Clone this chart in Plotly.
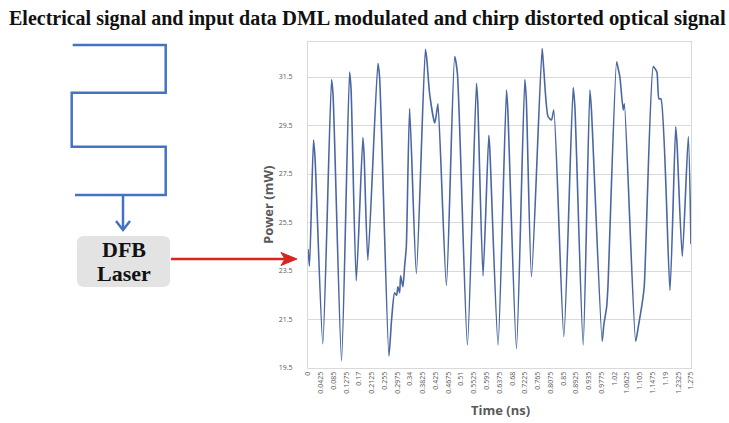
import plotly.graph_objects as go

# ---------------- data ----------------
time_ns = [0.0000, 0.0050, 0.0183, 0.0233, 0.0493, 0.0783, 0.0833, 0.1117, 0.1383, 0.1433,
           0.1607, 0.1827, 0.1867, 0.1993, 0.2327, 0.2383, 0.2693, 0.2783, 0.2883, 0.2950,
           0.2993, 0.3050, 0.3083, 0.3160, 0.3217, 0.3273, 0.3383, 0.3607, 0.3907, 0.3950,
           0.4050, 0.4217, 0.4267, 0.4327, 0.4607, 0.4883, 0.4973, 0.5307, 0.5607, 0.5650,
           0.5827, 0.6017, 0.6050, 0.6327, 0.6607, 0.6650, 0.6940, 0.7217, 0.7267, 0.7440,
           0.7793, 0.7850, 0.7993, 0.8107, 0.8183, 0.8517, 0.8827, 0.8883, 0.9160, 0.9383,
           0.9433, 0.9793, 0.9850, 0.9940, 0.9983, 1.0273, 1.0317, 1.0383, 1.0493, 1.0533,
           1.0907, 1.0983, 1.1050, 1.1117, 1.1193, 1.1493, 1.1550, 1.1617, 1.1683, 1.1750,
           1.2050, 1.2240, 1.2283, 1.2460, 1.2660, 1.2750]
power_mw = [24.4, 23.7, 28.9, 28.2, 20.5, 31.4, 30.8, 19.8, 31.7, 31.0,
            23.1, 29.0, 28.3, 23.95, 32.06, 31.5, 20.0, 21.5, 22.6, 22.5,
            22.85, 22.6, 23.3, 22.85, 23.7, 24.5, 30.2, 23.4, 32.64, 32.3,
            30.8, 29.6, 29.9, 30.4, 22.9, 32.34, 31.65, 20.45, 31.24, 30.5,
            23.3, 29.1, 28.6, 20.45, 30.96, 30.2, 20.3, 31.4, 30.6, 23.26,
            32.68, 31.8, 29.86, 29.73, 30.14, 20.8, 31.07, 30.3, 20.45, 30.96,
            30.2, 20.6, 21.3, 22.0, 22.8, 32.13, 31.9, 31.5, 30.14, 30.4,
            20.6, 21.1, 21.6, 22.1, 22.85, 31.93, 31.85, 31.7, 30.6, 30.6,
            22.7, 29.45, 28.8, 24.1, 29.04, 24.6]

x_tick_labels = ["0", "0.0425", "0.085", "0.1275", "0.17", "0.2125", "0.255", "0.2975",
                 "0.34", "0.3825", "0.425", "0.4675", "0.51", "0.5525", "0.595", "0.6375",
                 "0.68", "0.7225", "0.765", "0.8075", "0.85", "0.8925", "0.935", "0.9775",
                 "1.02", "1.0625", "1.105", "1.1475", "1.19", "1.2325", "1.275"]
y_tick_values = [19.5, 21.5, 23.5, 25.5, 27.5, 29.5, 31.5]

title_left = "Electrical signal and input data"
title_right = "DML modulated and chirp distorted optical signal"
laser_label = ["DFB", "Laser"]

# ---------------- layout helpers ----------------
W, H = 729, 423
L, R, T, B = 308, 691, 42, 368


def px(x):
    return (x - L) / (R - L)


def py(y):
    return (B - y) / (B - T)


def path(points, close=False):
    s = "M " + " L ".join(f"{px(x):.5f},{py(y):.5f}" for x, y in points)
    return s + (" Z" if close else "")


fig = go.Figure()
fig.add_trace(go.Scatter(
    x=time_ns, y=power_mw, mode="lines",
    line=dict(color="#4a67a3", width=1.6, shape="spline", smoothing=0.6),
    hoverinfo="skip", showlegend=False))

tick_font = dict(family="Open Sans", size=7, color="#595959")
fig.update_xaxes(
    range=[0, 1.275], tickvals=[float(s) for s in x_tick_labels], ticktext=x_tick_labels,
    tickangle=-90, tickfont=tick_font, showgrid=False, zeroline=False,
    showline=True, linecolor="#d9d9d9", linewidth=1, mirror=True, ticks="")
fig.update_yaxes(
    range=[19.5, 19.5 + (B - T) / 24.25], tickvals=y_tick_values,
    ticktext=[f"{v:.1f}" for v in y_tick_values], tickfont=tick_font,
    showgrid=True, gridcolor="#d9d9d9", gridwidth=1, zeroline=False,
    showline=True, linecolor="#d9d9d9", linewidth=1, mirror=True, ticks="",
    ticklabelstandoff=13)

blue = "#4472c4"
red = "#d7261e"
shapes = []
# square wave (electrical signal)
shapes.append(dict(type="path", xref="paper", yref="paper",
                   path=path([(72.7, 45), (165.7, 45), (165.7, 92.7), (71.7, 92.7),
                              (71.7, 146.7), (165.7, 146.7), (165.7, 195), (75, 195)]),
                   line=dict(color=blue, width=2.5)))
# down arrow
shapes.append(dict(type="path", xref="paper", yref="paper",
                   path=path([(123, 195), (123, 229)]), line=dict(color=blue, width=2.5)))
shapes.append(dict(type="path", xref="paper", yref="paper",
                   path=path([(116, 221), (123, 230), (130, 221)]),
                   line=dict(color=blue, width=2.5)))
# DFB laser box (rounded)
x0, x1, y0, y1, r = 77, 170, 236, 287, 7
rr = (f"M {px(x0 + r):.5f},{py(y0):.5f} L {px(x1 - r):.5f},{py(y0):.5f} "
      f"Q {px(x1):.5f},{py(y0):.5f} {px(x1):.5f},{py(y0 + r):.5f} "
      f"L {px(x1):.5f},{py(y1 - r):.5f} Q {px(x1):.5f},{py(y1):.5f} {px(x1 - r):.5f},{py(y1):.5f} "
      f"L {px(x0 + r):.5f},{py(y1):.5f} Q {px(x0):.5f},{py(y1):.5f} {px(x0):.5f},{py(y1 - r):.5f} "
      f"L {px(x0):.5f},{py(y0 + r):.5f} Q {px(x0):.5f},{py(y0):.5f} {px(x0 + r):.5f},{py(y0):.5f} Z")
shapes.append(dict(type="path", xref="paper", yref="paper", path=rr,
                   fillcolor="#e3e3e3", line=dict(width=0), layer="below"))
# red arrow
shapes.append(dict(type="path", xref="paper", yref="paper",
                   path=path([(171, 259), (290, 259)]), line=dict(color=red, width=2.5)))
shapes.append(dict(type="path", xref="paper", yref="paper",
                   path=path([(297, 259), (281, 252.5), (285, 259), (281, 265.5)], close=True),
                   fillcolor=red, line=dict(color=red, width=1)))

ann = []
ann.append(dict(text=f"<b>{title_left}</b>", x=px(7), y=py(19), xref="paper", yref="paper",
                xanchor="left", yanchor="middle", showarrow=False,
                font=dict(family="Liberation Serif", size=20, color="#111111")))
ann.append(dict(text=f"<b>{title_right}</b>", x=px(280), y=py(19), xref="paper", yref="paper",
                xanchor="left", yanchor="middle", showarrow=False,
                font=dict(family="Liberation Serif", size=20.7, color="#111111")))
box_font = dict(family="Liberation Serif", size=22, color="#111111")
ann.append(dict(text=f"<b>{laser_label[0]}</b>", x=px(123.5), y=py(249), xref="paper",
                yref="paper", xanchor="center", yanchor="middle", showarrow=False, font=box_font))
ann.append(dict(text=f"<b>{laser_label[1]}</b>", x=px(123.5), y=py(273), xref="paper",
                yref="paper", xanchor="center", yanchor="middle", showarrow=False, font=box_font))
axis_font = dict(family="Open Sans", size=13, color="#595959")
ann.append(dict(text="<b>Power (mW)</b>", x=px(268), y=py(205), xref="paper", yref="paper",
                xanchor="center", yanchor="middle", textangle=-90, showarrow=False,
                font=axis_font))
ann.append(dict(text="<b>Time (ns)</b>", x=px(500), y=py(410), xref="paper", yref="paper",
                xanchor="center", yanchor="middle", showarrow=False, font=axis_font))

fig.update_layout(
    width=W, height=H, autosize=False,
    margin=dict(l=L, r=W - R, t=T, b=H - B, pad=0),
    paper_bgcolor="white", plot_bgcolor="white",
    shapes=shapes, annotations=ann, showlegend=False)

fig.write_html("out.html")
